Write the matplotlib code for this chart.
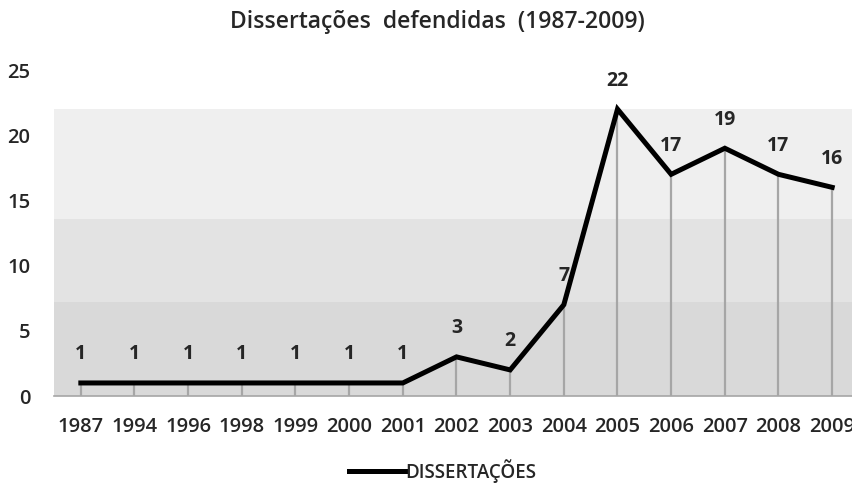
import matplotlib
matplotlib.use("Agg")
import matplotlib.pyplot as plt
from matplotlib.lines import Line2D

years = ["1987", "1994", "1996", "1998", "1999", "2000", "2001", "2002",
         "2003", "2004", "2005", "2006", "2007", "2008", "2009"]
dissertacoes = [1, 1, 1, 1, 1, 1, 1, 3, 2, 7, 22, 17, 19, 17, 16]
y_ticks = [0, 5, 10, 15, 20, 25]
band_edges = [0, 7.2, 13.6, 22]
band_colors = ["#d9d9d9", "#e3e3e3", "#efefef"]

FONT = "Open Sans"
TXT = "#262626"

W, H = 853, 483
fig = plt.figure(figsize=(W / 100, H / 100), dpi=100)
fig.patch.set_facecolor("white")

# plot area in pixel coordinates
left, right, bottom, top = 54, 859, 396, 70
ax = fig.add_axes([left / W, (H - bottom) / H, (right - left) / W, (bottom - top) / H])
ax.set_facecolor("white")

x = list(range(len(years)))
ax.set_xlim(-0.5, len(years) - 0.5)
ax.set_ylim(0, 25)

# shaded background bands
for lo, hi, c in zip(band_edges[:-1], band_edges[1:], band_colors):
    ax.axhspan(lo, hi, color=c, zorder=0, lw=0)

# drop lines from each point to the axis
ax.vlines(x, 0, dissertacoes, color="#a6a6a6", lw=1.6, zorder=1)

ax.plot(x, dissertacoes, color="black", lw=3.6, solid_joinstyle="miter", zorder=3)

for xi, v in zip(x, dissertacoes):
    ax.annotate(str(v), (xi, v), xytext=(0, 20.5), textcoords="offset points",
                ha="center", va="center", fontsize=14, family=FONT,
                fontweight="bold", color=TXT, zorder=4)

for s in ["top", "right", "left"]:
    ax.spines[s].set_visible(False)
ax.spines["bottom"].set_color("#a6a6a6")
ax.spines["bottom"].set_linewidth(1.2)

ax.set_xticks(x)
ax.set_xticklabels(years, family=FONT, fontsize=14.5, fontweight="semibold", color=TXT)
ax.set_yticks(y_ticks)
ax.set_yticklabels([str(t) for t in y_ticks], family=FONT, fontsize=14.5,
                   fontweight="semibold", color=TXT)
ax.tick_params(axis="x", length=0, pad=15)
ax.tick_params(axis="y", length=0, pad=17)

fig.text(437 / W, 1 - 22 / H, "Dissertações  defendidas  (1987-2009)", ha="center",
         va="center", family=FONT, fontsize=16.5, fontweight="semibold", color=TXT)

handle = Line2D([], [], color="black", lw=3.6)
fig.legend([handle], ["DISSERTAÇÕES"], loc="center", bbox_to_anchor=(443 / W, 1 - 471 / H),
           frameon=False, handlelength=3.0, handletextpad=0.0,
           prop={"family": FONT, "size": 13.5, "weight": "semibold"}, labelcolor=TXT)

fig.savefig("out.png", dpi=100, facecolor="white")
